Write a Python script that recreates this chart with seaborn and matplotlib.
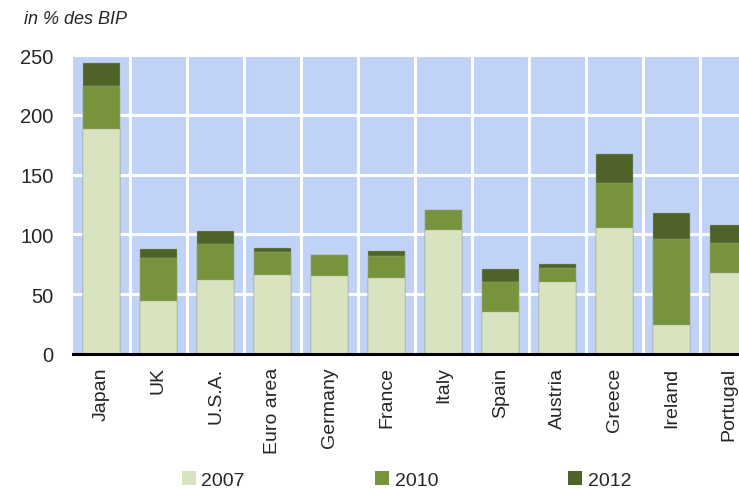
import matplotlib
matplotlib.use('Agg')
import matplotlib.pyplot as plt
from matplotlib.patches import Patch
import numpy as np
import pandas as pd
import seaborn as sns

# Public debt, in % of GDP
countries = ['Japan', 'UK', 'U.S.A.', 'Euro area', 'Germany', 'France',
             'Italy', 'Spain', 'Austria', 'Greece', 'Ireland', 'Portugal']
debt_2007 = [188, 44, 62, 66, 65, 63.5, 103.5, 35.5, 60, 105.5, 24.5, 68]
debt_2010 = [224, 80, 92, 85, 83, 82, 120, 60, 72, 143, 96.5, 93]
debt_2012 = [243, 88, 102.5, 88.5, 83, 86.5, 120, 71, 75.5, 167, 118, 107.5]
years = ['2007', '2010', '2012']
y_ticks = [0, 50, 100, 150, 200, 250]

colors = {'2007': '#d8e4bf', '2010': '#77933c', '2012': '#4f6228'}

df = pd.DataFrame({'country': countries, '2007': debt_2007,
                   '2010': debt_2010, '2012': debt_2012})

sns.set_style('white')
plt.rcParams['font.family'] = ['Liberation Sans', 'DejaVu Sans']

fig = plt.figure(figsize=(7.39, 4.89), dpi=100)
ax = fig.add_axes([73 / 739, 134 / 489, 684 / 739, 299 / 489])
ax.set_facecolor('#c0d3f7')

# stacked bars: draw the tallest level first, smaller levels on top
for yr in ['2012', '2010', '2007']:
    sns.barplot(data=df, x='country', y=yr, color=colors[yr], width=0.65,
                edgecolor='#a0a89a', linewidth=0.3, saturation=1,
                ax=ax, zorder=3)

ax.set_xlim(-0.5, len(countries) - 0.5)
ax.set_ylim(0, 250)
ax.set_yticks(y_ticks)
ax.set_xticks(np.arange(len(countries)) + 0.5, minor=True)
ax.grid(True, axis='y', color='white', linewidth=2.2, zorder=1)
ax.grid(True, axis='x', which='minor', color='white', linewidth=2.2, zorder=1)
ax.grid(False, axis='x', which='major')
ax.set_axisbelow(True)

for s in ['top', 'right', 'left']:
    ax.spines[s].set_visible(False)
ax.spines['bottom'].set_color('black')
ax.spines['bottom'].set_linewidth(2.2)
ax.spines['bottom'].set_zorder(5)

ax.tick_params(axis='both', which='both', length=0, labelsize=14)
ax.tick_params(axis='y', pad=14, labelsize=14.5)
ax.tick_params(axis='x', pad=9)
ax.set_xticks(range(len(countries)))
ax.set_xticklabels(countries, rotation=90, va='top', ha='center')
ax.set_xlabel('')
ax.set_ylabel('')

fig.text(24 / 739, 1 - 20 / 489, 'in % des BIP', fontsize=13, style='italic',
         va='center', ha='left')

handles = [Patch(facecolor=colors[y], edgecolor='none') for y in years]
fig.legend(handles, years, loc='center left', ncol=3, frameon=False,
           bbox_to_anchor=(182 / 739, 1 - 481 / 489), fontsize=14,
           handlelength=0.7, handleheight=0.7, handletextpad=0.3,
           columnspacing=6.7, borderpad=0, borderaxespad=0)

fig.savefig('out.png', dpi=100)
